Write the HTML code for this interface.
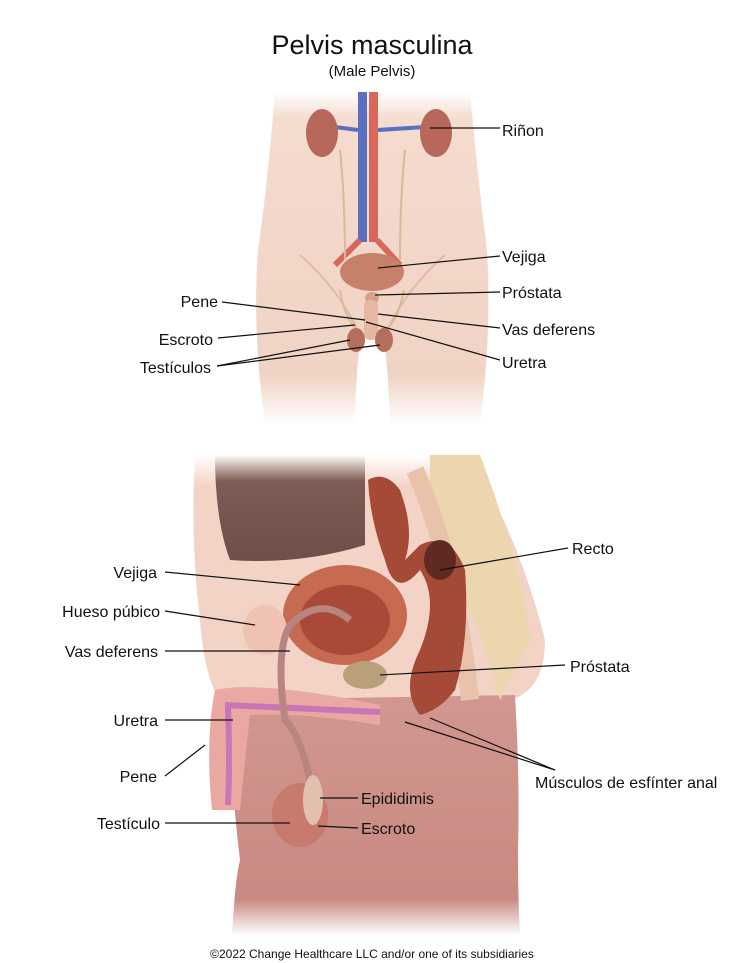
<!DOCTYPE html>
<html><head><meta charset="utf-8"><style>
html,body{margin:0;padding:0;background:#fff;}
svg{display:block;}
text{font-family:"Liberation Sans",Arial,sans-serif;fill:#111;}
</style></head><body>
<svg width="744" height="963" viewBox="0 0 744 963" xmlns="http://www.w3.org/2000/svg">
<defs>
<linearGradient id="tf" x1="0" y1="0" x2="0" y2="1">
<stop offset="0" stop-color="#f4dccf" stop-opacity="0"/>
<stop offset="0.08" stop-color="#f4dccf"/>
<stop offset="0.85" stop-color="#f0d3c4"/>
<stop offset="1" stop-color="#f0d3c4" stop-opacity="0"/>
</linearGradient>
<linearGradient id="cav" x1="0" y1="0" x2="0" y2="1">
<stop offset="0" stop-color="#8b6d66" stop-opacity="0"/>
<stop offset="0.25" stop-color="#7d5c55"/>
<stop offset="1" stop-color="#6e4e48"/>
</linearGradient>
<linearGradient id="topfade" x1="0" y1="0" x2="0" y2="1">
<stop offset="0" stop-color="#f3d3c6" stop-opacity="0"/>
<stop offset="0.12" stop-color="#f3d3c6"/>
</linearGradient>
<linearGradient id="low" x1="0" y1="0" x2="0" y2="1">
<stop offset="0" stop-color="#d19790"/>
<stop offset="0.85" stop-color="#c88a83"/>
<stop offset="1" stop-color="#c88a83" stop-opacity="0"/>
</linearGradient>
</defs>

<text x="372" y="54" font-size="27" text-anchor="middle">Pelvis masculina</text>
<text x="372" y="76" font-size="15" text-anchor="middle">(Male Pelvis)</text>

<!-- top torso -->
<path d="M275,92 L470,92 Q478,180 487,250 Q492,330 480,425 L390,425 Q388,360 383,335 L362,335 Q356,360 355,425 L265,425 Q252,330 258,250 Q268,180 275,92 Z" fill="url(#tf)"/>
<path d="M300,255 Q340,290 360,335 M445,255 Q405,290 385,335" stroke="#e2b8a8" stroke-width="2" fill="none"/>
<!-- vessels -->
<rect x="358" y="92" width="9" height="150" fill="#5a6fc0"/>
<rect x="369" y="92" width="9" height="150" fill="#d8695a"/>
<path d="M360,240 L335,265 M377,240 L400,265" stroke="#d8695a" stroke-width="6" fill="none"/>
<path d="M340,150 Q345,200 345,260 M405,150 Q400,200 400,260" stroke="#d9b99a" stroke-width="2" fill="none"/>
<path d="M335,127 L358,130 M378,130 L425,127" stroke="#5a6fc0" stroke-width="4"/>
<ellipse cx="322" cy="133" rx="16" ry="24" fill="#b8675b"/>
<ellipse cx="436" cy="133" rx="16" ry="24" fill="#b8675b"/>
<ellipse cx="372" cy="272" rx="32" ry="19" fill="#c7806a"/>
<ellipse cx="372" cy="298" rx="7" ry="6" fill="#d7a088"/>
<path d="M340,290 Q345,320 358,330 M404,290 Q398,320 386,330" stroke="#d9b99a" stroke-width="2" fill="none"/>
<rect x="364" y="300" width="14" height="40" rx="6" fill="#e6b8a4"/>
<ellipse cx="356" cy="340" rx="9" ry="12" fill="#b66e5c"/>
<ellipse cx="384" cy="340" rx="9" ry="12" fill="#b66e5c"/>

<g stroke="#111" stroke-width="1.2" fill="none">
<line x1="430" y1="128" x2="500" y2="128"/>
<line x1="378" y1="268" x2="500" y2="256"/>
<line x1="375" y1="295" x2="500" y2="292"/>
<line x1="378" y1="314" x2="500" y2="328"/>
<line x1="366" y1="322" x2="500" y2="360"/>
<line x1="222" y1="302" x2="365" y2="320"/>
<line x1="218" y1="338" x2="355" y2="325"/>
<line x1="217" y1="366" x2="350" y2="340"/>
<line x1="217" y1="366" x2="380" y2="345"/>
</g>
<g font-size="16">
<text x="502" y="136">Riñon</text>
<text x="502" y="262">Vejiga</text>
<text x="502" y="298">Próstata</text>
<text x="502" y="335">Vas deferens</text>
<text x="502" y="368">Uretra</text>
<text x="218" y="307" text-anchor="end">Pene</text>
<text x="213" y="345" text-anchor="end">Escroto</text>
<text x="211" y="373" text-anchor="end">Testículos</text>
</g>

<!-- bottom figure -->
<path d="M195,455 L470,455 Q520,540 545,640 Q545,690 510,700 L230,715 Q205,690 200,620 Q190,540 195,455 Z" fill="url(#topfade)"/>
<path d="M230,700 L515,695 Q520,780 518,850 Q518,900 520,935 L232,935 Q235,880 240,860 Q230,780 230,700 Z" fill="url(#low)"/>
<path d="M215,455 L365,455 L365,545 Q300,565 230,560 Q215,520 215,455 Z" fill="url(#cav)"/>
<!-- spine -->
<path d="M430,455 L480,455 Q520,560 530,640 L500,700 Q475,600 430,540 Z" fill="#ecd6ae"/>
<path d="M415,470 Q455,560 470,700" stroke="#e8c2aa" stroke-width="18" fill="none"/>
<!-- rectum -->
<path d="M368,480 Q385,470 400,490 Q415,530 405,560 L420,545 Q450,530 465,570 Q470,640 455,690 Q440,710 420,715 Q400,690 420,650 Q440,600 420,570 Q395,600 385,560 Q370,520 368,480 Z" fill="#a64a38"/>
<ellipse cx="440" cy="560" rx="16" ry="20" fill="#5e2a22"/>
<!-- bladder -->
<ellipse cx="345" cy="615" rx="62" ry="50" fill="#c76a52"/>
<ellipse cx="345" cy="620" rx="45" ry="35" fill="#a94a38"/>
<ellipse cx="365" cy="675" rx="22" ry="14" fill="#b9a07a"/>
<!-- pubic bone -->
<ellipse cx="265" cy="630" rx="22" ry="25" fill="#efc2b4"/>
<!-- penis -->
<path d="M215,690 Q260,680 380,705 L380,725 Q300,712 250,715 Q245,760 240,810 L212,810 Q205,740 215,690 Z" fill="#e9a9a2"/>
<path d="M225,705 L380,712 M228,708 Q230,760 228,805" stroke="#c876b8" stroke-width="6" fill="none"/>
<!-- vas deferens -->
<path d="M315,810 Q305,740 285,720 Q275,650 290,625 Q320,595 350,620" stroke="#b88580" stroke-width="7" fill="none"/>
<!-- testicle -->
<ellipse cx="300" cy="815" rx="28" ry="32" fill="#c97a6e"/>
<ellipse cx="313" cy="800" rx="10" ry="25" fill="#e2c0b0"/>

<g stroke="#111" stroke-width="1.2" fill="none">
<line x1="440" y1="570" x2="568" y2="548"/>
<line x1="165" y1="572" x2="300" y2="585"/>
<line x1="165" y1="611" x2="255" y2="625"/>
<line x1="165" y1="651" x2="290" y2="651"/>
<line x1="380" y1="675" x2="565" y2="665"/>
<line x1="165" y1="720" x2="233" y2="720"/>
<line x1="165" y1="776" x2="205" y2="745"/>
<line x1="405" y1="722" x2="555" y2="770"/>
<line x1="430" y1="718" x2="555" y2="770"/>
<line x1="320" y1="798" x2="358" y2="798"/>
<line x1="318" y1="826" x2="358" y2="828"/>
<line x1="165" y1="823" x2="290" y2="823"/>
</g>
<g font-size="16">
<text x="572" y="554">Recto</text>
<text x="157" y="578" text-anchor="end">Vejiga</text>
<text x="160" y="617" text-anchor="end">Hueso púbico</text>
<text x="158" y="657" text-anchor="end">Vas deferens</text>
<text x="570" y="672">Próstata</text>
<text x="158" y="726" text-anchor="end">Uretra</text>
<text x="157" y="782" text-anchor="end">Pene</text>
<text x="535" y="788">Músculos de esfínter anal</text>
<text x="361" y="804">Epididimis</text>
<text x="361" y="834">Escroto</text>
<text x="160" y="829" text-anchor="end">Testículo</text>
</g>
<text x="372" y="958" font-size="12" text-anchor="middle">©2022 Change Healthcare LLC and/or one of its subsidiaries</text>
</svg>
</body></html>
